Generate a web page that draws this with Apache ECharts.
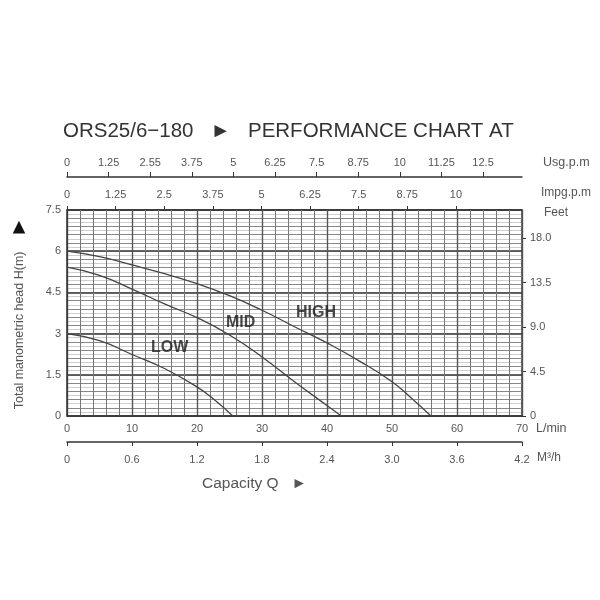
<!DOCTYPE html>
<html>
<head>
<meta charset="utf-8">
<script src="https://cdn.jsdelivr.net/npm/echarts@6/dist/echarts.min.js"></script>
<style>html,body{margin:0;padding:0;background:#fff}#c{width:600px;height:600px}</style>
</head>
<body>
<div id="c"></div>
<script>
// ---- data ----
const highFlow = [0, 5, 10, 15, 20, 25, 30, 35, 40, 45, 50, 53, 56];
const highHead = [6.0, 5.80, 5.50, 5.18, 4.82, 4.38, 3.85, 3.25, 2.66, 2.00, 1.25, 0.65, 0];
const midFlow = [0, 5, 10, 15, 20, 25, 30, 35, 40, 42.2];
const midHead = [5.42, 5.12, 4.62, 4.08, 3.58, 2.95, 2.15, 1.25, 0.38, 0];
const lowFlow = [0, 5, 10, 15, 20, 23, 25.5];
const lowHead = [3.0, 2.74, 2.24, 1.73, 1.06, 0.53, 0];
const curveNames = ['LOW', 'MID', 'HIGH'];
const curveLabelFlow = [15.8, 26.7, 38.3];
const curveLabelHead = [2.5, 3.4, 3.77];

const usgTicks = [0, 1.25, 2.5, 3.75, 5, 6.25, 7.5, 8.75, 10, 11.25, 12.5];
const usgLabels = ['0', '1.25', '2.55', '3.75', '5', '6.25', '7.5', '8.75', '10', '11.25', '12.5'];
const impTicks = [0, 1.25, 2.5, 3.75, 5, 6.25, 7.5, 8.75, 10];
const impLabels = ['0', '1.25', '2.5', '3.75', '5', '6.25', '7.5', '8.75', '10'];
const feetTicks = [0, 4.5, 9, 13.5, 18];
const feetLabels = ['0', '4.5', '9.0', '13.5', '18.0'];
const m3hLabels = ['0', '0.6', '1.2', '1.8', '2.4', '3.0', '3.6', '4.2'];

const pairs = (xs, ys) => xs.map((x, i) => [x, ys[i]]);
const FONT = 'Liberation Sans, Arial, sans-serif';
const TXT = '#555';
const AX = '#333';
const NAMEFS = 12.5;

const chart = echarts.init(document.getElementById('c'));
chart.setOption({
  animation: false,
  textStyle: { fontFamily: FONT },
  title: [
    { text: 'ORS25/6\u2212180   \u25BA   PERFORMANCE CHART AT', left: 63, top: 121, padding: 0,
      textStyle: { fontSize: 20.5, fontWeight: 'normal', color: '#333', fontFamily: FONT } },
    { text: 'Capacity Q   \u25BA', left: 202, top: 476, padding: 0,
      textStyle: { fontSize: 15.5, fontWeight: 'normal', color: TXT, fontFamily: FONT } }
  ],
  grid: { left: 67, right: 78, top: 210, bottom: 184, containLabel: false },
  xAxis: [
    { type: 'value', min: 0, max: 70, interval: 10, position: 'bottom', z: 1,
      axisLine: { show: true, onZero: false, lineStyle: { color: AX, width: 1.5 } },
      axisTick: { show: false },
      axisLabel: { margin: 7, color: TXT, fontSize: 11 },
      splitLine: { show: true, lineStyle: { color: '#555', width: 1.4 } },
      minorTick: { show: false, splitNumber: 5 },
      minorSplitLine: { show: true, lineStyle: { color: '#777', width: 1 } },
      name: 'L/min', nameLocation: 'end', nameGap: 14, nameMoveOverlap: false,
      nameTextStyle: { color: TXT, fontSize: NAMEFS, verticalAlign: 'top', padding: [6, 0, 0, 0] } },
    { type: 'value', min: 0, max: 4.2, interval: 0.6, position: 'bottom', offset: 26,
      axisLine: { show: true, onZero: false, lineStyle: { color: AX, width: 1.5 } },
      axisTick: { show: true, length: 4, lineStyle: { color: AX } },
      axisLabel: { margin: 12, color: TXT, fontSize: 11,
        formatter: v => m3hLabels[Math.round(v / 0.6)] },
      splitLine: { show: false },
      name: 'M\u00B3/h', nameLocation: 'end', nameGap: 15, nameMoveOverlap: false,
      nameTextStyle: { color: TXT, fontSize: 12, verticalAlign: 'top', padding: [10, 0, 0, 0] } },
    { type: 'value', min: 0, max: 11.7, position: 'top', offset: 0,
      axisLine: { show: true, onZero: false, lineStyle: { color: AX, width: 1.5 } },
      axisTick: { show: true, length: 4, customValues: impTicks, lineStyle: { color: AX } },
      axisLabel: { margin: 10, color: TXT, fontSize: 11, customValues: impTicks,
        formatter: v => impLabels[impTicks.indexOf(v)] },
      splitLine: { show: false },
      name: 'Impg.p.m', nameLocation: 'end', nameGap: 19, nameMoveOverlap: false,
      nameTextStyle: { color: TXT, fontSize: 12, verticalAlign: 'bottom', padding: [0, 0, 11, 0] } },
    { type: 'value', min: 0, max: 13.67, position: 'top', offset: 33,
      axisLine: { show: true, onZero: false, lineStyle: { color: AX, width: 1.5 } },
      axisTick: { show: true, length: 5, customValues: usgTicks, lineStyle: { color: AX } },
      axisLabel: { margin: 9, color: TXT, fontSize: 11, customValues: usgTicks,
        formatter: v => usgLabels[usgTicks.indexOf(v)] },
      splitLine: { show: false },
      name: 'Usg.p.m', nameLocation: 'end', nameGap: 21, nameMoveOverlap: false,
      nameTextStyle: { color: TXT, fontSize: NAMEFS, verticalAlign: 'bottom', padding: [0, 0, 8, 0] } }
  ],
  yAxis: [
    { type: 'value', min: 0, max: 7.5, interval: 1.5, position: 'left', z: 1,
      axisLine: { show: true, onZero: false, lineStyle: { color: AX, width: 1.5 } },
      axisTick: { show: false },
      axisLabel: { margin: 6, color: TXT, fontSize: 11 },
      splitLine: { show: true, lineStyle: { color: '#333', width: 1.6 } },
      minorTick: { show: false, splitNumber: 5 },
      minorSplitLine: { show: true, lineStyle: { color: '#888', width: 1 } },
      name: 'Total manometric head H(m)    {tri|\u25BA}', nameLocation: 'middle', nameGap: 37,
      nameMoveOverlap: false,
      nameTextStyle: { color: TXT, fontSize: 12.5, rich: { tri: { fontSize: 21, color: '#111' } } } },
    { type: 'value', min: 0, max: 20.85, position: 'right',
      axisLine: { show: true, onZero: false, lineStyle: { color: AX, width: 1.5 } },
      axisTick: { show: true, length: 4, customValues: feetTicks, lineStyle: { color: AX } },
      axisLabel: { margin: 8, color: TXT, fontSize: 11, customValues: feetTicks,
        formatter: v => feetLabels[feetTicks.indexOf(v)] },
      splitLine: { show: false },
      name: 'Feet', nameLocation: 'end', nameGap: -3, nameMoveOverlap: false,
      nameTextStyle: { color: TXT, fontSize: 12, align: 'left', verticalAlign: 'middle', padding: [0, 0, 0, 22] } },
    { type: 'value', min: 0, max: 7.5, interval: 0.15, position: 'left', z: -1,
      axisLine: { show: false, onZero: false }, axisTick: { show: false }, axisLabel: { show: false },
      splitLine: { show: true, lineStyle: { color: '#cfcfcf', width: 1 } } }
  ],
  series: [
    { type: 'line', name: 'HIGH', smooth: true, symbol: 'none', xAxisIndex: 0, yAxisIndex: 0, z: 3,
      data: pairs(highFlow, highHead), lineStyle: { color: '#444', width: 1.3 } },
    { type: 'line', name: 'MID', smooth: true, symbol: 'none', xAxisIndex: 0, yAxisIndex: 0, z: 3,
      data: pairs(midFlow, midHead), lineStyle: { color: '#444', width: 1.3 } },
    { type: 'line', name: 'LOW', smooth: true, symbol: 'none', xAxisIndex: 0, yAxisIndex: 0, z: 3,
      data: pairs(lowFlow, lowHead), lineStyle: { color: '#444', width: 1.3 } },
    { type: 'scatter', xAxisIndex: 0, yAxisIndex: 0, symbolSize: 0, z: 4,
      data: curveNames.map((n, i) => [curveLabelFlow[i], curveLabelHead[i], n]),
      label: { show: true, position: 'inside', formatter: p => p.data[2],
        fontSize: 16, fontWeight: 'bold', color: '#1a1a1a', fontFamily: FONT } }
  ]
});
</script>
</body>
</html>
